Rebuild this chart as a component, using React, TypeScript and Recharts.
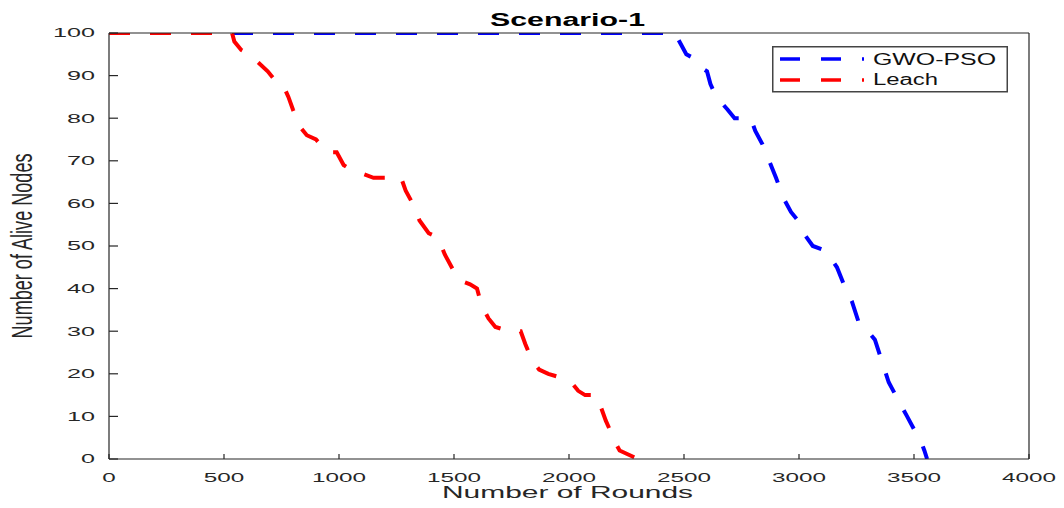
import React from 'react';
import { LineChart, Line, XAxis, YAxis, Legend } from 'recharts';

// GWO-PSO: rounds vs alive nodes
const gwoRounds = [0, 2460, 2480, 2510, 2545, 2570, 2600, 2615, 2640, 2690, 2720, 2790, 2810, 2840, 2870, 2900, 2935, 2965, 2995, 3020, 3060, 3110, 3140, 3165, 3195, 3230, 3260, 3300, 3330, 3360, 3390, 3420, 3440, 3470, 3500, 3525, 3545, 3557];
const gwoAlive = [100, 100, 98, 95, 94, 92, 91, 88, 85, 82, 80, 80, 77, 74, 70, 66, 61, 58, 56, 53, 50, 49, 47, 45, 41, 37, 32, 30, 28, 23, 18, 15, 13, 10, 7, 5, 2, 0];

// Leach
const leachRounds = [0, 535, 545, 575, 610, 650, 690, 720, 755, 780, 800, 830, 860, 900, 950, 990, 1020, 1050, 1100, 1150, 1270, 1290, 1320, 1350, 1390, 1430, 1460, 1490, 1520, 1570, 1600, 1620, 1650, 1680, 1740, 1790, 1810, 1840, 1870, 1910, 1970, 2010, 2040, 2070, 2120, 2140, 2160, 2185, 2200, 2220, 2260, 2300];
const leachAlive = [100, 100, 98, 96, 95, 93, 91, 89, 88, 85, 82, 78, 76, 75, 72, 72, 69, 68, 67, 66, 66, 63, 60, 56, 53, 52, 48, 45, 42, 41, 40, 36, 33, 31, 30, 30, 27, 23, 21, 20, 19, 18, 16, 15, 15, 12, 9, 6, 4, 2, 1, 0];

const xTicks = [0, 500, 1000, 1500, 2000, 2500, 3000, 3500, 4000];
const yTicks = [0, 10, 20, 30, 40, 50, 60, 70, 80, 90, 100];

const gwoData = gwoRounds.map((r, i) => ({ round: r, alive: gwoAlive[i] }));
const leachData = leachRounds.map((r, i) => ({ round: r, alive: leachAlive[i] }));

const FONT = '"Liberation Sans", Arial, sans-serif';
const AXIS = '#262626';

const XTick = (props: any) => {
  const { x, y, payload } = props;
  const s = String(payload.value);
  return (
    <text x={x} y={y + 23} textAnchor="middle" fontFamily={FONT} fontSize={12} fill={AXIS}
      textLength={s.length * 13.5} lengthAdjust="spacingAndGlyphs">{s}</text>
  );
};

const YTick = (props: any) => {
  const { x, y, payload } = props;
  const s = String(payload.value);
  return (
    <text x={x} y={y + 4.3} textAnchor="end" fontFamily={FONT} fontSize={12} fill={AXIS}
      textLength={s.length * 14} lengthAdjust="spacingAndGlyphs">{s}</text>
  );
};

const LegendBox = (props: any) => {
  const items = props.payload || [];
  const widths: Record<string, number> = { 'GWO-PSO': 123, Leach: 65 };
  return (
    <svg width={236} height={47} style={{ display: 'block' }}>
      <rect x={0.75} y={0.75} width={234.5} height={45} fill="#fff" stroke="#444" strokeWidth={1.5} />
      {items.map((it: any, i: number) => (
        <g key={it.value}>
          <line x1={8} x2={92} y1={13 + i * 21} y2={13 + i * 21} stroke={it.color} strokeWidth={3.5} strokeDasharray="20 21" />
          <text x={101} y={19 + i * 20} fontFamily={FONT} fontSize={16} fill="#111"
            textLength={widths[it.value]} lengthAdjust="spacingAndGlyphs">{it.value}</text>
        </g>
      ))}
    </svg>
  );
};

export default function App() {
  return (
    <div style={{ position: 'absolute', left: 0, top: 0, width: 1064, height: 508, background: '#fff' }}>
      <LineChart width={1064} height={508} margin={{ top: 33, right: 35, left: 0, bottom: 0 }}>
        <XAxis dataKey="round" type="number" domain={[0, 4000]} ticks={xTicks} interval={0}
          height={49} tickSize={-5} tickMargin={5} tick={<XTick />} stroke={AXIS}
          axisLine={{ stroke: AXIS, strokeWidth: 1.2 }} tickLine={{ stroke: AXIS, strokeWidth: 1.2 }} allowDataOverflow />
        <XAxis xAxisId="top" orientation="top" mirror dataKey="round" type="number" domain={[0, 4000]} ticks={xTicks}
          interval={0} tickSize={5} tick={false} axisLine={{ stroke: AXIS, strokeWidth: 1.2 }} tickLine={{ stroke: AXIS, strokeWidth: 1.2 }} allowDataOverflow />
        <YAxis type="number" domain={[0, 100]} ticks={yTicks} interval={0} width={109}
          tickSize={-9} tickMargin={23} tick={<YTick />} axisLine={{ stroke: AXIS, strokeWidth: 1.2 }} tickLine={{ stroke: AXIS, strokeWidth: 1.2 }} allowDataOverflow />
        <YAxis yAxisId="right" orientation="right" mirror type="number" domain={[0, 100]} ticks={yTicks}
          interval={0} tickSize={9} tick={false} axisLine={{ stroke: AXIS, strokeWidth: 1.2 }} tickLine={{ stroke: AXIS, strokeWidth: 1.2 }} allowDataOverflow />
        <Line data={gwoData} dataKey="alive" name="GWO-PSO" type="linear" stroke="#0000ff" strokeWidth={4}
          strokeDasharray="21 20" dot={false} activeDot={false} isAnimationActive={false} />
        <Line data={leachData} dataKey="alive" name="Leach" type="linear" stroke="#ff0000" strokeWidth={4}
          strokeDasharray="21 20" dot={false} activeDot={false} isAnimationActive={false} />
        <Legend layout="vertical" align="center" verticalAlign="middle" content={<LegendBox />}
          wrapperStyle={{ position: 'absolute', left: 772, top: 46, width: 236, height: 47, bottom: 'auto', right: 'auto' }} />
        <text x={567.5} y={26} textAnchor="middle" fontFamily={FONT} fontWeight="bold" fontSize={18} fill="#000"
          textLength={155} lengthAdjust="spacingAndGlyphs">Scenario-1</text>
        <text x={567.5} y={498} textAnchor="middle" fontFamily={FONT} fontSize={16} fill={AXIS}
          textLength={251} lengthAdjust="spacingAndGlyphs">Number of Rounds</text>
        <text transform="translate(22.5,246) scale(1.8,1) rotate(-90)" x={0} y={0} textAnchor="middle"
          dominantBaseline="central" fontFamily={FONT} fontSize={16} fill={AXIS}
          textLength={185} lengthAdjust="spacingAndGlyphs">Number of Alive Nodes</text>
      </LineChart>
    </div>
  );
}
